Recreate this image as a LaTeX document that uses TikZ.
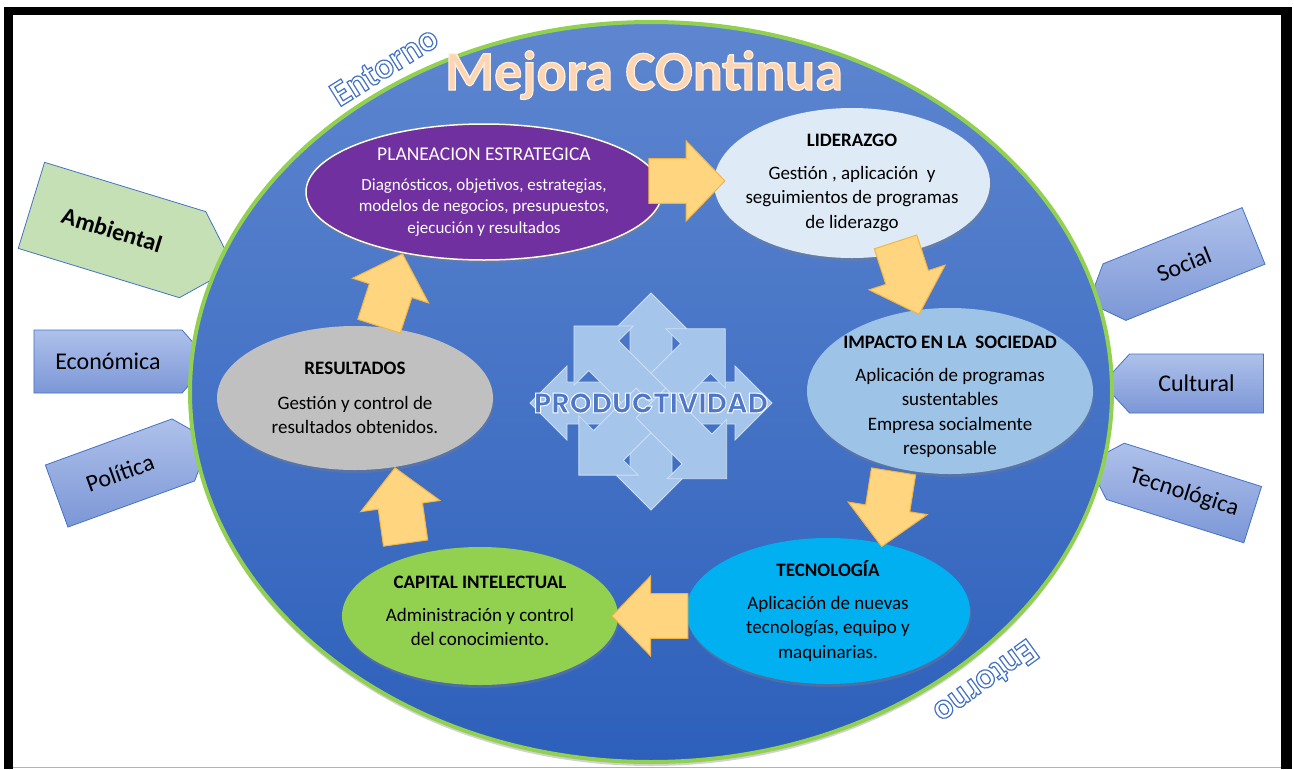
\documentclass[tikz,border=0pt]{standalone}
\usepackage{fontspec}
\setmainfont{Carlito}
\newfontfamily\prodfont{Poppins}[UprightFont={* Bold}]
\usetikzlibrary{shapes.geometric,shapes.arrows,shapes.symbols,calc,shadows}

% filled and stroked text: fill rgb, stroke rgb, stroke width, text
\newcommand\outlinetext[4]{\special{pdf:literal direct 2 Tr #3 w #1 rg #2 RG}#4\special{pdf:literal direct 0 Tr 0 g 0 G}}

\definecolor{ringtop}{HTML}{5E86D0}
\definecolor{ringbot}{HTML}{2D60BB}
\definecolor{ringgreen}{HTML}{92D050}
\definecolor{entblue}{HTML}{4472C4}
\definecolor{plancol}{HTML}{7030A0}
\definecolor{lidcol}{HTML}{DEEBF7}
\definecolor{impcol}{HTML}{9DC3E6}
\definecolor{teccol}{HTML}{00B0F0}
\definecolor{capcol}{HTML}{92D050}
\definecolor{rescol}{HTML}{C0C0C0}
\definecolor{flowfill}{HTML}{FFD57F}
\definecolor{flowline}{HTML}{F2B544}
\definecolor{starcol}{HTML}{A6C5EA}
\definecolor{tabtop}{HTML}{AEC1EA}
\definecolor{tabbot}{HTML}{7C97D7}
\definecolor{tabgreen}{HTML}{C5E0B4}

\begin{document}
\begin{tikzpicture}[x=1pt,y=-1pt,
	stage/.style={ellipse,inner sep=0pt,drop shadow={shadow xshift=1pt,shadow yshift=-3pt,opacity=0.35}},
	stage text/.style={align=center,font=\fontsize{19}{24.5}\selectfont},
	flow/.style={single arrow,draw=flowline,fill=flowfill,line width=1pt,inner xsep=0pt,inner ysep=21pt,anchor=tip,
		minimum width=80pt,minimum height=76pt,single arrow head extend=17pt,single arrow tip angle=92},
	tab/.style={signal,draw=entblue,line width=0.8pt,inner sep=0pt,font=\fontsize{24}{24}\selectfont},
	blue tab/.style={tab,top color=tabtop,bottom color=tabbot},
	green tab/.style={tab,fill=tabgreen}
]

	\def \cx {651};
	\def \cy {403};

	\useasboundingbox (0,0) rectangle (1294,769);
	\fill[white] (0,0) rectangle (1294,769);

	% frame
	\fill[black] (4,7) rectangle (1292,15);
	\fill[black] (4,7) rectangle (13,769);
	\fill[black] (1281,7) rectangle (1292,769);
	\draw[gray!60] (13,767) -- (1281,767);

	% environment tabs
	\node[green tab,signal to=east,rotate=-17,minimum width=212pt,minimum height=90pt,
		signal pointer angle=92,font=\fontsize{24}{24}\selectfont\bfseries] (amb) at (112,230) {Ambiental};
	\node[blue tab,signal to=east,minimum width=176pt,minimum height=63pt,signal pointer angle=97] (eco) at (108,361.5) {Económica};
	\node[blue tab,signal to=east,rotate=20,minimum width=163pt,minimum height=66pt,signal pointer angle=99] (pol) at (120,473) {Política};
	\node[blue tab,signal to=west,rotate=22,minimum width=178pt,minimum height=61pt,signal pointer angle=95] (soc) at (1184,264) {Social};
	\node[blue tab,signal to=west,minimum width=161pt,minimum height=59pt,signal pointer angle=95] (cul) at (1196.5,383.5) {Cultural};
	\node[blue tab,signal to=west,rotate=-17.5,minimum width=173pt,minimum height=59pt,signal pointer angle=91] (tecno) at (1184,493) {Tecnológica};

	% big ring
	\node[ellipse,minimum width=922pt,minimum height=740pt,draw=ringgreen,line width=4pt,
		top color=ringtop,bottom color=ringbot,
		drop shadow={shadow xshift=0pt,shadow yshift=-4pt,opacity=0.35}] (ring) at (651,392) {};

	\node[font=\fontsize{56}{56}\selectfont\bfseries,anchor=base] (title) at (644,90)
		{\outlinetext{0.988 0.835 0.706}{1 0.94 0.88}{1.2}{Mejora COntinua}};
	\node[font=\fontsize{36}{36}\selectfont\bfseries,rotate=32] (env top) at (384,66)
		{\outlinetext{1 1 1}{0.267 0.447 0.769}{1.2}{Entorno}};
	\node[font=\fontsize{36}{36}\selectfont\bfseries,rotate=216] (env bot) at (986,682)
		{\outlinetext{1 1 1}{0.267 0.447 0.769}{1.2}{Entorno}};

	% productivity star
	\begin{scope}[shift={(\cx,\cy)}]
		\foreach \a/\len/\w in {0/121/37,180/121/37,90/110/37,270/107/37,45/105/42,135/109/42,225/102/42,315/107/42}
			\filldraw[fill=starcol,draw=starcol!55!white,line width=0.8pt,rotate=\a]
				(0,-21) -- (\len-\w,-21) -- (\len-\w,-\w) -- (\len,0) -- (\len-\w,\w) -- (\len-\w,21) -- (0,21) -- cycle;
	\end{scope}
	\node[font=\prodfont\fontsize{28}{28}\selectfont] (prod) at (\cx,\cy)
		{\outlinetext{0.31 0.467 0.784}{1 1 1}{1}{PRODUCTIVIDAD}};

	% stages of the cycle
	\node[stage,fill=plancol,draw=yellow!15,line width=1.5pt,minimum width=356pt,minimum height=136pt] (plan) at (484,192) {};
	\node[stage,fill=lidcol,minimum width=276pt,minimum height=150pt] (lid) at (852,183) {};
	\node[stage,fill=impcol,minimum width=286pt,minimum height=166pt] (imp) at (950,391) {};
	\node[stage,fill=teccol,minimum width=284pt,minimum height=146pt] (tec) at (828,611) {};
	\node[stage,fill=capcol,minimum width=276pt,minimum height=138pt] (cap) at (480,616) {};
	\node[stage,fill=rescol,minimum width=276pt,minimum height=144pt] (res) at (355,398) {};

	\node[stage text,text=white,font=\fontsize{17}{21.5}\selectfont] (plan txt) at (plan)
		{{\fontsize{19.5}{20}\selectfont PLANEACION ESTRATEGICA}\\[8pt]
		 Diagnósticos, objetivos, estrategias,\\ modelos de negocios, presupuestos,\\ ejecución y resultados};
	\node[stage text] (lid txt) at (lid)
		{\textbf{LIDERAZGO}\\[8pt] Gestión , aplicación~ y\\ seguimientos de programas\\ de liderazgo};
	\node[stage text] (imp txt) at ($(imp)+(0,6)$)
		{\textbf{IMPACTO EN LA~ SOCIEDAD}\\[8pt] Aplicación de programas\\ sustentables\\ Empresa socialmente\\ responsable};
	\node[stage text] (tec txt) at (tec)
		{\textbf{TECNOLOGÍA}\\[8pt] Aplicación de nuevas\\ tecnologías, equipo y\\ maquinarias.};
	\node[stage text] (cap txt) at ($(cap)+(0,-5)$)
		{\textbf{CAPITAL INTELECTUAL}\\[8pt] Administración y control\\ del conocimiento.};
	\node[stage text] (res txt) at (res)
		{\textbf{RESULTADOS}\\[10pt] Gestión y control de\\ resultados obtenidos.};

	% flow between stages, each placed by its tip
	\node[flow] (f1) at ($(plan.east)!1.23!(lid.west)$) {};
	\node[flow,rotate=-72] (f2) at ($(imp.112)!0.06!(imp.center)$) {};
	\node[flow,rotate=-99] (f3) at ($(tec.50)!0.05!(tec.center)$) {};
	\node[flow,rotate=180] (f4) at ($(cap.east)!0.05!(cap.center)$) {};
	\node[flow,rotate=98] (f5) at (res.-60) {};
	\node[flow,rotate=72] (f6) at (plan.-143) {};
\end{tikzpicture}
\end{document}
